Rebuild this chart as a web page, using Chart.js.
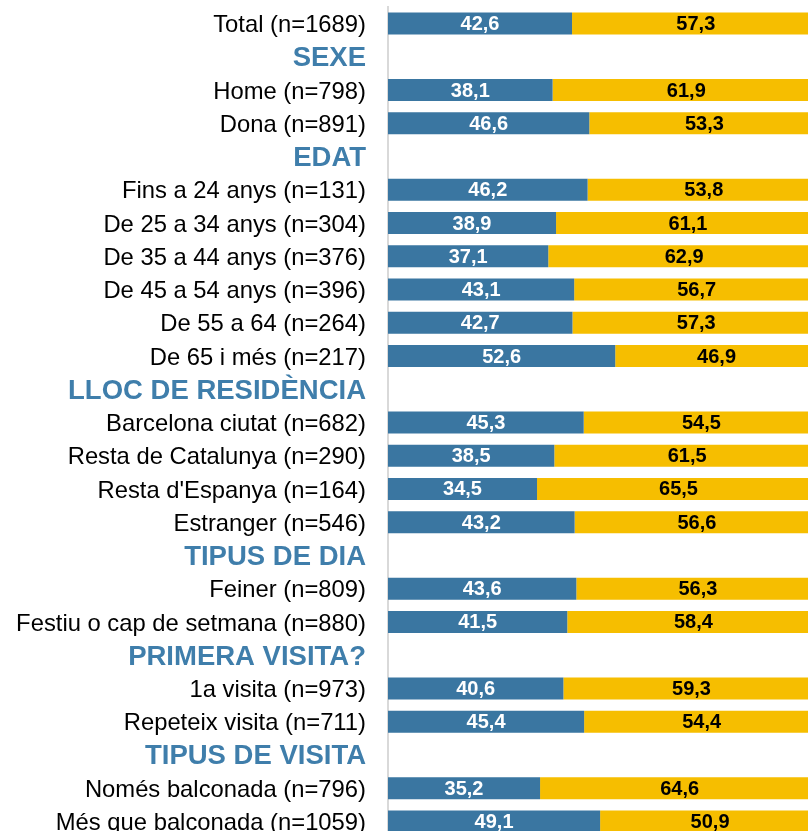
<!DOCTYPE html>
<html>
<head>
<meta charset="utf-8">
<script src="https://cdn.jsdelivr.net/npm/chart.js@4.4.1/dist/chart.umd.min.js"></script>
<style>
  body { margin: 0; background: #fff; }
  #wrap { width: 808px; height: 831px; overflow: hidden; position: relative; }
</style>
</head>
<body>
<div id="wrap">
  <canvas id="grafica" width="820" height="838"></canvas>
</div>
<script>
// files: categories (headers have no bars)
const categories = [
  'Total (n=1689)', 'SEXE', 'Home (n=798)', 'Dona (n=891)', 'EDAT',
  'Fins a 24 anys (n=131)', 'De 25 a 34 anys (n=304)', 'De 35 a 44 anys (n=376)',
  'De 45 a 54 anys (n=396)', 'De 55 a 64 (n=264)', 'De 65 i més (n=217)',
  'LLOC DE RESIDÈNCIA', 'Barcelona ciutat (n=682)', 'Resta de Catalunya (n=290)',
  "Resta d'Espanya (n=164)", 'Estranger (n=546)', 'TIPUS DE DIA', 'Feiner (n=809)',
  'Festiu o cap de setmana (n=880)', 'PRIMERA VISITA?', '1a visita (n=973)',
  'Repeteix visita (n=711)', 'TIPUS DE VISITA', 'Només balconada (n=796)',
  'Més que balconada (n=1059)'
];
const headers = ['SEXE', 'EDAT', 'LLOC DE RESIDÈNCIA', 'TIPUS DE DIA', 'PRIMERA VISITA?', 'TIPUS DE VISITA'];

const serieBlau = [42.6, null, 38.1, 46.6, null, 46.2, 38.9, 37.1, 43.1, 42.7, 52.6,
  null, 45.3, 38.5, 34.5, 43.2, null, 43.6, 41.5, null, 40.6, 45.4, null, 35.2, 49.1];
const serieGroc = [57.3, null, 61.9, 53.3, null, 53.8, 61.1, 62.9, 56.7, 57.3, 46.9,
  null, 54.5, 61.5, 65.5, 56.6, null, 56.3, 58.4, null, 59.3, 54.4, null, 64.6, 50.9];

const FONT = "'Liberation Sans', Arial, sans-serif";

// etiquetes de valor centrades a cada segment
const valorsPlugin = {
  id: 'valors',
  afterDatasetsDraw(chart) {
    const ctx = chart.ctx;
    ctx.save();
    ctx.font = 'bold 20px ' + FONT;
    ctx.textAlign = 'center';
    ctx.textBaseline = 'middle';
    chart.data.datasets.forEach((ds, i) => {
      chart.getDatasetMeta(i).data.forEach((bar, j) => {
        const v = ds.data[j];
        if (v == null) return;
        const x = (bar.base + bar.x) / 2;
        ctx.fillStyle = i === 0 ? '#ffffff' : '#000000';
        ctx.fillText(v.toFixed(1).replace('.', ','), x, bar.y + 1);
      });
    });
    ctx.restore();
  }
};

new Chart(document.getElementById('grafica'), {
  type: 'bar',
  data: {
    labels: categories,
    datasets: [
      { data: serieBlau, backgroundColor: '#3A76A1', categoryPercentage: 1, barPercentage: 0.662 },
      { data: serieGroc, backgroundColor: '#F6BE00', categoryPercentage: 1, barPercentage: 0.662 }
    ]
  },
  options: {
    indexAxis: 'y',
    responsive: false,
    animation: false,
    layout: { padding: { top: 7, right: 0, bottom: 0, left: 0 } },
    plugins: {
      legend: { display: false },
      tooltip: { enabled: false }
    },
    scales: {
      x: {
        stacked: true,
        min: 0,
        max: 100,
        display: false
      },
      y: {
        stacked: true,
        afterFit: scale => {
          scale.width = 388;
          scale.paddingTop = 0;
          scale.paddingBottom = 0;
        },
        grid: { display: false },
        border: { display: true, color: '#D9D9D9', width: 2 },
        ticks: {
          padding: 14,
          labelOffset: 2,
          autoSkip: false,
          color: ctx => headers.includes(categories[ctx.index]) ? '#3F7EAB' : '#000000',
          font: ctx => headers.includes(categories[ctx.index])
            ? { family: FONT, size: 27.5, weight: 'bold' }
            : { family: FONT, size: 23.8, weight: 'normal' }
        }
      }
    }
  },
  plugins: [valorsPlugin]
});
</script>
</body>
</html>
